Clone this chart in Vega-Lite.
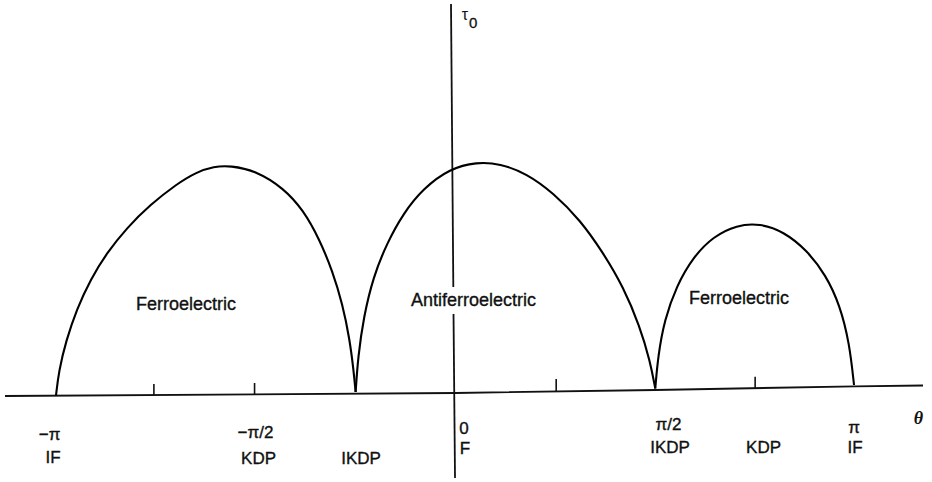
{
  "$schema": "https://vega.github.io/schema/vega-lite/v6.json",
  "width": 932,
  "height": 482,
  "autosize": {"type": "fit", "contains": "padding"},
  "padding": 0,
  "background": "white",
  "config": {"view": {"stroke": null}},
  "datasets": {
    "boundary": [
      {"arch": 1, "t": -1.0, "tau": -0.044},
      {"arch": 1, "t": -0.993, "tau": 0.2},
      {"arch": 1, "t": -0.975, "tau": 0.5},
      {"arch": 1, "t": -0.948, "tau": 0.82},
      {"arch": 1, "t": -0.913, "tau": 1.12},
      {"arch": 1, "t": -0.873, "tau": 1.38},
      {"arch": 1, "t": -0.823, "tau": 1.63},
      {"arch": 1, "t": -0.765, "tau": 1.86},
      {"arch": 1, "t": -0.698, "tau": 2.07},
      {"arch": 1, "t": -0.648, "tau": 2.19},
      {"arch": 1, "t": -0.605, "tau": 2.245},
      {"arch": 1, "t": -0.564, "tau": 2.255},
      {"arch": 1, "t": -0.498, "tau": 2.2},
      {"arch": 1, "t": -0.431, "tau": 2.03},
      {"arch": 1, "t": -0.381, "tau": 1.81},
      {"arch": 1, "t": -0.341, "tau": 1.52},
      {"arch": 1, "t": -0.308, "tau": 1.2},
      {"arch": 1, "t": -0.283, "tau": 0.87},
      {"arch": 1, "t": -0.265, "tau": 0.52},
      {"arch": 1, "t": -0.255, "tau": 0.2},
      {"arch": 1, "t": -0.25, "tau": -0.01},
      {"arch": 2, "t": -0.25, "tau": -0.01},
      {"arch": 2, "t": -0.244, "tau": 0.34},
      {"arch": 2, "t": -0.23, "tau": 0.74},
      {"arch": 2, "t": -0.206, "tau": 1.14},
      {"arch": 2, "t": -0.172, "tau": 1.475},
      {"arch": 2, "t": -0.131, "tau": 1.775},
      {"arch": 2, "t": -0.081, "tau": 2.025},
      {"arch": 2, "t": -0.014, "tau": 2.225},
      {"arch": 2, "t": 0.053, "tau": 2.29},
      {"arch": 2, "t": 0.111, "tau": 2.275},
      {"arch": 2, "t": 0.178, "tau": 2.175},
      {"arch": 2, "t": 0.245, "tau": 1.98},
      {"arch": 2, "t": 0.312, "tau": 1.71},
      {"arch": 2, "t": 0.37, "tau": 1.38},
      {"arch": 2, "t": 0.42, "tau": 1.04},
      {"arch": 2, "t": 0.461, "tau": 0.65},
      {"arch": 2, "t": 0.487, "tau": 0.3},
      {"arch": 2, "t": 0.5, "tau": 0.025},
      {"arch": 3, "t": 0.5, "tau": 0.025},
      {"arch": 3, "t": 0.507, "tau": 0.35},
      {"arch": 3, "t": 0.523, "tau": 0.71},
      {"arch": 3, "t": 0.553, "tau": 1.05},
      {"arch": 3, "t": 0.595, "tau": 1.34},
      {"arch": 3, "t": 0.645, "tau": 1.545},
      {"arch": 3, "t": 0.704, "tau": 1.66},
      {"arch": 3, "t": 0.762, "tau": 1.675},
      {"arch": 3, "t": 0.821, "tau": 1.595},
      {"arch": 3, "t": 0.879, "tau": 1.41},
      {"arch": 3, "t": 0.927, "tau": 1.16},
      {"arch": 3, "t": 0.962, "tau": 0.86},
      {"arch": 3, "t": 0.986, "tau": 0.48},
      {"arch": 3, "t": 0.9975, "tau": 0.06}
    ],
    "thetaAxis": [
      {"t": -1.1276, "tau": -0.05},
      {"t": 0.0, "tau": -0.02},
      {"t": 0.5, "tau": 0.01},
      {"t": 1.0, "tau": 0.047},
      {"t": 1.1702, "tau": 0.055}
    ],
    "tauAxis": [
      {"t": -0.0113, "tau": 3.87, "t2": -0.0055, "tau2": 1.04},
      {"t": -0.005, "tau": 0.77, "t2": -0.00125, "tau2": -0.87}
    ],
    "ticks": [
      {"t": -0.755, "tau": -0.04, "t2": -0.755, "tau2": 0.07},
      {"t": -0.503, "tau": -0.033, "t2": -0.503, "tau2": 0.08},
      {"t": 0.252, "tau": -0.005, "t2": 0.252, "tau2": 0.12},
      {"t": 0.75, "tau": 0.03, "t2": 0.75, "tau2": 0.143}
    ],
    "tickLabels": [
      {"t": -1.016, "tau": -0.44, "label": "−π"},
      {"t": -1.0075, "tau": -0.67, "label": "IF"},
      {"t": -0.5006, "tau": -0.415, "label": "−π/2"},
      {"t": -0.493, "tau": -0.675, "label": "KDP"},
      {"t": -0.2365, "tau": -0.675, "label": "IKDP"},
      {"t": 0.0213, "tau": -0.38, "label": "0"},
      {"t": 0.0238, "tau": -0.575, "label": "F"},
      {"t": 0.533, "tau": -0.34, "label": "π/2"},
      {"t": 0.537, "tau": -0.565, "label": "IKDP"},
      {"t": 0.771, "tau": -0.565, "label": "KDP"},
      {"t": 0.9975, "tau": -0.37, "label": "π"},
      {"t": 1.0, "tau": -0.565, "label": "IF"}
    ],
    "regions": [
      {"t": -0.6746, "tau": 0.86, "label": "Ferroelectric"},
      {"t": 0.045, "tau": 0.905, "label": "Antiferroelectric"},
      {"t": 0.7096, "tau": 0.925, "label": "Ferroelectric"}
    ],
    "axisTitles": [
      {"t": 1.159, "tau": -0.28, "label": "θ"}
    ],
    "tauSymbol": [
      {"t": 0.0238, "tau": 3.765, "label": "τ"}
    ],
    "tauSubscript": [
      {"t": 0.0445, "tau": 3.68, "label": "0"}
    ]
  },
  "encoding": {
    "x": {"field": "t", "type": "quantitative", "axis": null,
          "scale": {"domain": [-1.1402, 1.1927], "nice": false, "zero": false}},
    "y": {"field": "tau", "type": "quantitative", "axis": null,
          "scale": {"domain": [-0.91, 3.91], "nice": false, "zero": false}}
  },
  "layer": [
    {
      "data": {"name": "thetaAxis"},
      "mark": {"type": "line", "color": "#111", "strokeWidth": 1.8, "interpolate": "linear"},
      "encoding": {}
    },
    {
      "data": {"name": "tauAxis"},
      "mark": {"type": "rule", "color": "#111", "strokeWidth": 1.8},
      "encoding": {"x2": {"field": "t2"}, "y2": {"field": "tau2"}}
    },
    {
      "data": {"name": "ticks"},
      "mark": {"type": "rule", "color": "#111", "strokeWidth": 1.6},
      "encoding": {"x2": {"field": "t2"}, "y2": {"field": "tau2"}}
    },
    {
      "data": {"name": "boundary"},
      "mark": {"type": "line", "color": "#000", "strokeWidth": 2.1, "interpolate": "basis"},
      "encoding": {"detail": {"field": "arch", "type": "nominal"}}
    },
    {
      "data": {"name": "tickLabels"},
      "mark": {"type": "text", "font": "Liberation Sans", "fontSize": 17, "color": "#111", "stroke": "#111", "strokeWidth": 0.35, "align": "center", "baseline": "middle"},
      "encoding": {"text": {"field": "label"}}
    },
    {
      "data": {"name": "regions"},
      "mark": {"type": "text", "font": "Liberation Sans", "fontSize": 18, "color": "#111", "stroke": "#111", "strokeWidth": 0.35, "align": "center", "baseline": "middle"},
      "encoding": {"text": {"field": "label"}}
    },
    {
      "data": {"name": "axisTitles"},
      "mark": {"type": "text", "font": "Liberation Serif", "fontSize": 18, "fontStyle": "italic", "fontWeight": "bold", "color": "#111", "align": "center", "baseline": "middle"},
      "encoding": {"text": {"field": "label"}}
    },
    {
      "data": {"name": "tauSymbol"},
      "mark": {"type": "text", "font": "Liberation Sans", "fontSize": 16, "color": "#111", "align": "center", "baseline": "middle"},
      "encoding": {"text": {"field": "label"}}
    },
    {
      "data": {"name": "tauSubscript"},
      "mark": {"type": "text", "font": "Liberation Sans", "fontSize": 15, "color": "#111", "stroke": "#111", "strokeWidth": 0.3, "align": "center", "baseline": "middle"},
      "encoding": {"text": {"field": "label"}}
    }
  ]
}
